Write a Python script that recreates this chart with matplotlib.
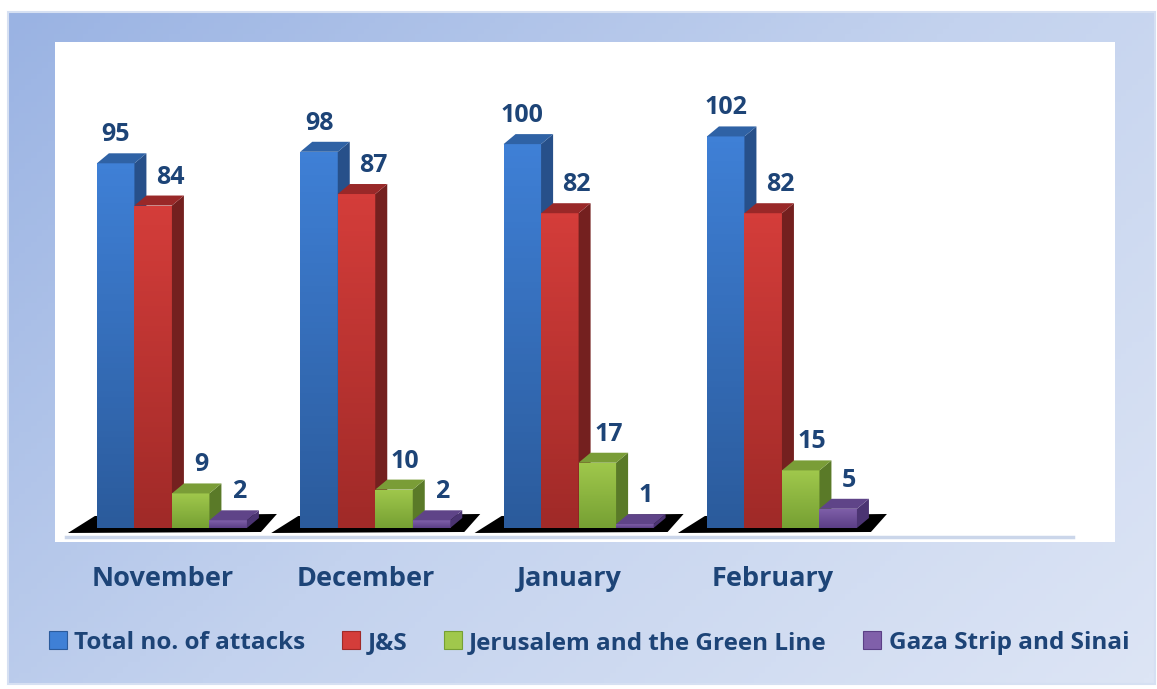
import matplotlib
matplotlib.use("Agg")
import matplotlib.pyplot as plt
from matplotlib.patches import Polygon, Rectangle, Patch
from matplotlib.colors import LinearSegmentedColormap
import numpy as np

# data
months = ["November", "December", "January", "February"]
series_names = ["Total no. of attacks", "J&S", "Jerusalem and the Green Line", "Gaza Strip and Sinai"]
total = [95, 98, 100, 102]
js = [84, 87, 82, 82]
jerusalem = [9, 10, 17, 15]
gaza = [2, 2, 1, 5]
series = [total, js, jerusalem, gaza]

# colours: (front top, front bottom, side, top)
colors = [
    ("#3f80d6", "#2b5b9c", "#27508a", "#2f62a5"),
    ("#d43d3a", "#a02a28", "#74201f", "#992828"),
    ("#a0c84c", "#76a033", "#5a7a28", "#7a9d37"),
    ("#8060aa", "#5b3f86", "#4b3472", "#5f4488"),
]
# label shift to the right for each series (pixels), as in the original
lab_shift = [0, 17, 11, 11]
label_col = "#1d4477"
FONT = ["Open Sans", "DejaVu Sans"]

W, H = 1157, 689
fig = plt.figure(figsize=(W / 100, H / 100), dpi=100)

# background frame with diagonal gradient
bg = fig.add_axes([0, 0, 1, 1])
bg.set_xlim(0, W)
bg.set_ylim(H, 0)
bg.axis("off")
gx, gy = np.meshgrid(np.linspace(0, 1, 200), np.linspace(0, 1, 120))
g = (gx * 0.6 + gy * 0.4)
bg_cmap = LinearSegmentedColormap.from_list("bg", ["#9ab3e3", "#c3d2ee", "#dde5f5"])
bg.imshow(g, cmap=bg_cmap, extent=(8, 1155, 684, 12), aspect="auto", zorder=0)
bg.add_patch(Rectangle((8, 12), 1147, 672, fill=False, ec="#d6e0f2", lw=1.5, zorder=1))

# plot area
ax_l, ax_r, ax_t, ax_b = 55, 1115, 42, 542
ax = fig.add_axes([ax_l / W, (H - ax_b) / H, (ax_r - ax_l) / W, (ax_b - ax_t) / H])
ax.set_facecolor("white")
for s in ax.spines.values():
    s.set_visible(False)
ax.set_xticks([])
ax.set_yticks([])

xmin, xmax = -0.575, 4.638
ymin, ymax = -3.65, 126.6
px_x = (ax_r - ax_l) / (xmax - xmin)
px_y = (ax_b - ax_t) / (ymax - ymin)
bw = 37.5 / px_x
dx = 12 / px_x
dy = 10 / px_y

# floor shadows and front edge line
ax.plot([0.01, 0.96], [0.01, 0.01], transform=ax.transAxes, color="#cbd6ea", lw=2.5, zorder=1)
for i in range(len(months)):
    gl = i - 2 * bw
    gr = i + 2 * bw
    shadow = Polygon([(gl - 29 / px_x, -5 / px_y), (gl - 2 / px_x, 12 / px_y),
                      (gr + 30 / px_x, 14 / px_y), (gr + 14 / px_x, -4 / px_y)],
                     closed=True, fc="black", ec="none", zorder=2)
    ax.add_patch(shadow)

# bars
z = 3
for i in range(len(months)):
    for k, vals in enumerate(series):
        v = vals[i]
        x0 = i - 2 * bw + k * bw
        ftop, fbot, side, top = colors[k]
        cmap = LinearSegmentedColormap.from_list("f%d" % k, [fbot, ftop])
        front = Rectangle((x0, 0), bw, v, fc=ftop, ec="none", zorder=z)
        ax.add_patch(front)
        im = ax.imshow(np.linspace(0, 1, 64).reshape(-1, 1), cmap=cmap, origin="lower",
                       extent=(x0, x0 + bw, 0, v), aspect="auto", zorder=z + 0.1)
        im.set_clip_path(front)
        ax.add_patch(Polygon([(x0 + bw, 0), (x0 + bw + dx, dy), (x0 + bw + dx, v + dy), (x0 + bw, v)],
                             closed=True, fc=side, ec="none", zorder=z + 0.2))
        ax.add_patch(Polygon([(x0, v), (x0 + dx, v + dy), (x0 + bw + dx, v + dy), (x0 + bw, v)],
                             closed=True, fc=top, ec="none", zorder=z + 0.3))
        ax.text(x0 + bw / 2 + lab_shift[k] / px_x, v + dy + 6 / px_y, str(v), ha="center", va="bottom",
                fontsize=18, fontweight="bold", color=label_col, family=FONT, zorder=20)
        z += 1

    ax.text(i - 0.045, -13.3, months[i], ha="center", va="center", fontsize=19.5,
            fontweight="bold", color=label_col, family=FONT, clip_on=False)

ax.set_xlim(xmin, xmax)
ax.set_ylim(ymin, ymax)

# legend
handles = [Patch(fc=colors[k][0], ec=colors[k][1], lw=0.8) for k in range(4)]
leg = fig.legend(handles, series_names, loc="center", bbox_to_anchor=(0.509, 0.067), ncol=4,
                 frameon=False, handlelength=0.75, handleheight=0.75, handletextpad=0.3,
                 columnspacing=1.5, prop={"family": FONT, "weight": "bold", "size": 17.5})
for t in leg.get_texts():
    t.set_color(label_col)

fig.savefig("out.png", dpi=100)
